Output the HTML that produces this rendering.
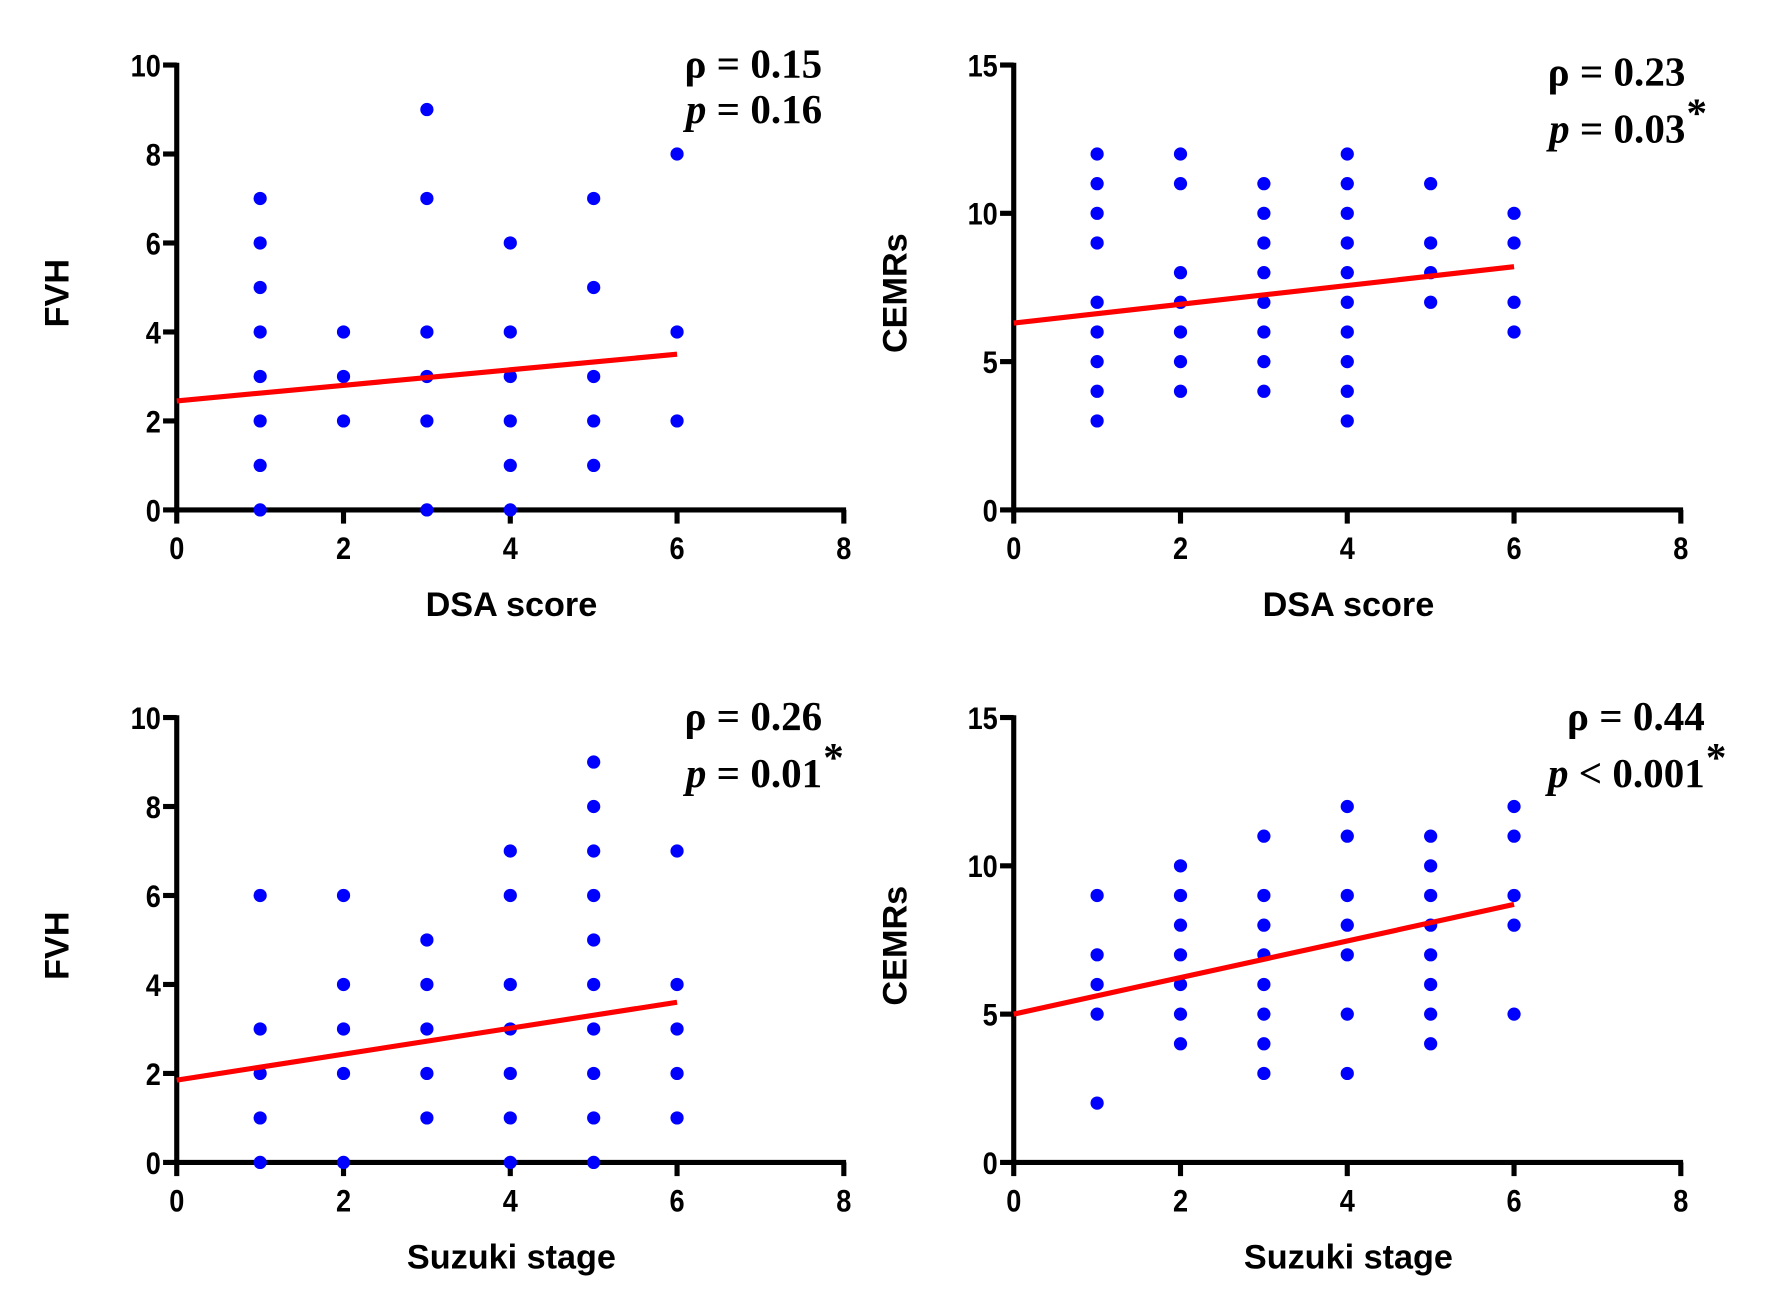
<!DOCTYPE html>
<html><head><meta charset="utf-8"><style>
html,body{margin:0;padding:0;background:#fff;}
svg{display:block;}
.tick{font-family:"Liberation Sans",sans-serif;font-weight:bold;font-size:28px;}
.title{font-family:"Liberation Sans",sans-serif;font-weight:bold;font-size:30px;}
.ann{font-family:"Liberation Serif",serif;font-weight:bold;font-size:36px;}
</style></head><body>
<svg id="fig" width="1788" height="1313" viewBox="0 0 1568 1151" preserveAspectRatio="none" xmlns="http://www.w3.org/2000/svg"></svg>
<script>
// Panel A: DSA score vs FVH
const aX = [1,1,1,1,1,1,1,1, 2,2,2, 3,3,3,3,3,3, 4,4,4,4,4,4, 5,5,5,5,5, 6,6,6];
const aY = [7,6,5,4,3,2,1,0, 4,3,2, 9,7,4,3,2,0, 6,4,3,2,1,0, 7,5,3,2,1, 8,4,2];
const aLine = [2.45, 3.5];
// Panel B: DSA score vs CEMRs
const bX = [1,1,1,1,1,1,1,1,1, 2,2,2,2,2,2,2, 3,3,3,3,3,3,3,3, 4,4,4,4,4,4,4,4,4,4, 5,5,5,5, 6,6,6,6];
const bY = [12,11,10,9,7,6,5,4,3, 12,11,8,7,6,5,4, 11,10,9,8,7,6,5,4, 12,11,10,9,8,7,6,5,4,3, 11,9,8,7, 10,9,7,6];
const bLine = [6.3, 8.2];
// Panel C: Suzuki stage vs FVH
const cX = [1,1,1,1,1, 2,2,2,2,2, 3,3,3,3,3, 4,4,4,4,4,4,4, 5,5,5,5,5,5,5,5,5,5, 6,6,6,6,6];
const cY = [6,3,2,1,0, 6,4,3,2,0, 5,4,3,2,1, 7,6,4,3,2,1,0, 9,8,7,6,5,4,3,2,1,0, 7,4,3,2,1];
const cLine = [1.85, 3.6];
// Panel D: Suzuki stage vs CEMRs
const dX = [1,1,1,1,1, 2,2,2,2,2,2,2, 3,3,3,3,3,3,3,3, 4,4,4,4,4,4,4, 5,5,5,5,5,5,5,5, 6,6,6,6,6];
const dY = [9,7,6,5,2, 10,9,8,7,6,5,4, 11,9,8,7,6,5,4,3, 12,11,9,8,7,5,3, 11,10,9,8,7,6,5,4, 12,11,9,8,5];
const dLine = [5.0, 8.7];
const xTicks = [0,2,4,6,8];
const yTicksA = [0,2,4,6,8,10];
const yTicksB = [0,5,10,15];

const NS = "http://www.w3.org/2000/svg";
const svg = document.getElementById('fig');
function mk(tag, attrs, parent, text){
  const e = document.createElementNS(NS, tag);
  for (const k in attrs) e.setAttribute(k, attrs[k]);
  if (text !== undefined) e.textContent = text;
  (parent||svg).appendChild(e);
  return e;
}
function panel(id, x0, yB, ymax, yTicks, xs, ys, line, xTitle, yTitle, yTitleX, ann){
  const g = mk('g', {});
  
  
  const W = 585, H = 390;
  const sx = v => x0 + v / 8 * W;
  const sy = v => yB - v / ymax * H;
  const ya = mk('line', {x1:x0, y1:yB+2, x2:x0, y2:yB-H-2, stroke:'#000','stroke-width':4.5}, g);
  
  
  const xa = mk('line', {x1:x0-2, y1:yB, x2:x0+W+2, y2:yB, stroke:'#000','stroke-width':4.5}, g);
  
  
  xTicks.forEach(t => {
    mk('line', {x1:sx(t), y1:yB, x2:sx(t), y2:yB+12, stroke:'#000','stroke-width':4.5}, g);
    const tl = mk('text', {x:0, y:0, 'text-anchor':'middle', class:'tick', transform:`translate(${sx(t)} ${yB+43}) scale(0.85 1)`}, g, String(t));
    
    
  });
  yTicks.forEach(t => {
    mk('line', {x1:x0-12, y1:sy(t), x2:x0, y2:sy(t), stroke:'#000','stroke-width':4.5}, g);
    const tl = mk('text', {x:0, y:0, 'text-anchor':'end', class:'tick', transform:`translate(${x0-14} ${sy(t)+10}) scale(0.85 1)`}, g, String(t));
    
    
  });
  xs.forEach((xv, i) => {
    const c = mk('circle', {cx:sx(xv), cy:sy(ys[i]), r:5.8, fill:'#0000ff'}, g);
    
    
  });
  const rl = mk('line', {x1:sx(0), y1:sy(line[0]), x2:sx(6), y2:sy(line[1]), stroke:'#ff0000','stroke-width':4.5}, g);
  
  
  const xt = mk('text', {x:x0+W/2+1, y:yB+93, 'text-anchor':'middle', class:'title'}, g, xTitle);
  
  
  const cy = yB - H/2 + 5;
  const yt = mk('text', {x:yTitleX, y:cy, 'text-anchor':'middle', class:'title', transform:`rotate(-90 ${yTitleX} ${cy})`}, g, yTitle);
  
  
  const r = mk('text', {x:ann.x, y:ann.y1, 'text-anchor':'end', class:'ann'}, g, '\u03C1 = ' + ann.rho);
  
  
  const p = mk('text', {x:ann.x, y:ann.y2, 'text-anchor':'end', class:'ann'}, g);
  
  
  mk('tspan', {'font-style':'italic'}, p, 'p');
  mk('tspan', {}, p, ' ' + ann.p);
  if (ann.star) mk('text', {x:ann.x+1, y:ann.y2-14, class:'ann', 'font-size':'22'}, g, '*');
}
panel('panel-dsa-fvh', 155, 447, 10, yTicksA, aX, aY, aLine, 'DSA score', 'FVH', 60, {x:721, y1:68, y2:108, rho:'0.15', p:'= 0.16', star:false});
panel('panel-dsa-cemrs', 889, 447, 15, yTicksB, bX, bY, bLine, 'DSA score', 'CEMRs', 795, {x:1478, y1:75, y2:125, rho:'0.23', p:'= 0.03', star:true});
panel('panel-suzuki-fvh', 155, 1019, 10, yTicksA, cX, cY, cLine, 'Suzuki stage', 'FVH', 60, {x:721, y1:640, y2:690, rho:'0.26', p:'= 0.01', star:true});
panel('panel-suzuki-cemrs', 889, 1019, 15, yTicksB, dX, dY, dLine, 'Suzuki stage', 'CEMRs', 795, {x:1495, y1:640, y2:690, rho:'0.44', p:'< 0.001', star:true});
</script>
</body></html>
